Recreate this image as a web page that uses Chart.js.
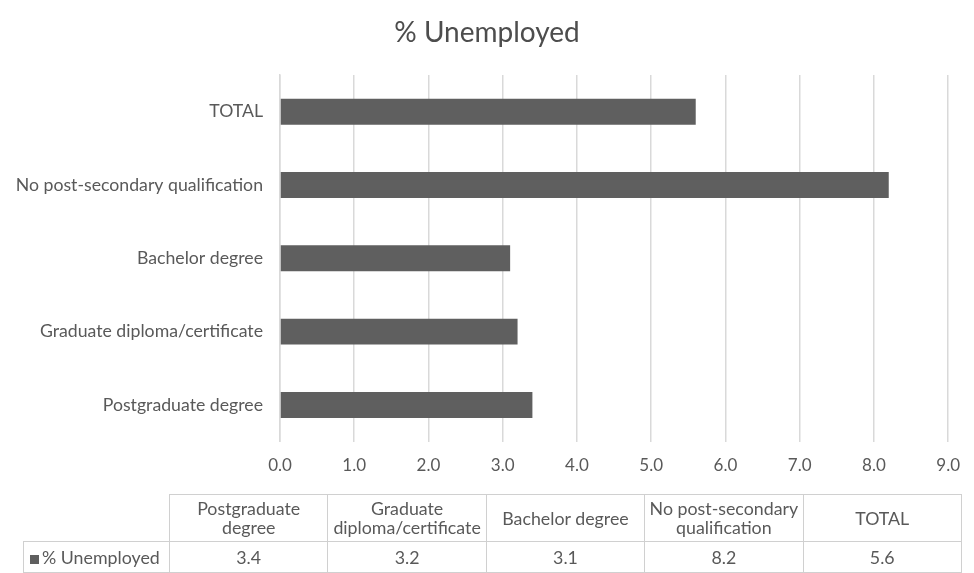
<!DOCTYPE html>
<html>
<head>
<meta charset="utf-8">
<script src="https://cdn.jsdelivr.net/npm/chart.js@4/dist/chart.umd.min.js"></script>
<style>
  html, body { margin: 0; padding: 0; background: #ffffff; }
  #wrap { position: relative; width: 974px; height: 573px; font-family: Lato, "Open Sans", sans-serif; color: #595959; }
  #chart { position: absolute; left: 0; top: 0; }
  #table { position: absolute; left: 23px; top: 494px; width: 938px; table-layout: fixed; border-collapse: collapse; font-size: 17.8px; color: #595959; }
  #table td { border: 1px solid #d0d0d0; text-align: center; padding: 0; line-height: 19px; white-space: nowrap; overflow: visible; }
  #table tr.head td { height: 46px; }
  #table tr.vals td { height: 30px; }
  #table td.blank { border: none; }
  #table td.key { text-align: left; padding-left: 6px; }
  .swatch { display: inline-block; width: 9px; height: 9px; background: #5f5f5f; margin-right: 3px; }
</style>
</head>
<body>
<div id="wrap">
  <canvas id="chart" width="974" height="573"></canvas>
  <table id="table"></table>
</div>
<script>
var categories = ['Postgraduate degree', 'Graduate diploma/certificate', 'Bachelor degree', 'No post-secondary qualification', 'TOTAL'];
var headerLines = [['Postgraduate', 'degree'], ['Graduate', 'diploma/certificate'], ['Bachelor degree'], ['No post-secondary', 'qualification'], ['TOTAL']];
var unemployed = [3.4, 3.2, 3.1, 8.2, 5.6];
var seriesName = '% Unemployed';

// title centred on the whole canvas, like the Excel original
var pageTitle = {
    id: 'pageTitle',
    afterDraw: function (chart) {
        var c = chart.ctx;
        c.save();
        c.font = '28px Lato';
        c.fillStyle = '#4d4d4d';
        c.textAlign = 'center';
        c.textBaseline = 'middle';
        c.fillText(seriesName, chart.width / 2, 33);
        c.restore();
    }
};

document.addEventListener("DOMContentLoaded", function () {
    // data table under the chart
    var table = document.getElementById('table');
    var html = '<colgroup><col style="width:146px">';
    categories.forEach(function () { html += '<col style="width:158.4px">'; });
    html += '</colgroup>';
    html += '<tr class="head"><td class="blank"></td>';
    headerLines.forEach(function (lines) {
        html += '<td>' + lines.join('<br>') + '</td>';
    });
    html += '</tr>';
    html += '<tr class="vals"><td class="key"><span class="swatch"></span>' + seriesName + '</td>';
    unemployed.forEach(function (v) {
        html += '<td>' + v.toFixed(1) + '</td>';
    });
    html += '</tr>';
    table.innerHTML = html;

    var ctx = document.getElementById('chart').getContext('2d');
    new Chart(ctx, {
        type: 'bar',
        data: {
            labels: categories,
            datasets: [{
                label: seriesName,
                data: unemployed,
                backgroundColor: '#5f5f5f',
                borderWidth: 0,
                categoryPercentage: 0.354,
                barPercentage: 1
            }]
        },
        options: {
            indexAxis: 'y',
            responsive: false,
            animation: false,
            layout: {
                padding: { left: 0, right: 25, top: 75, bottom: 83 }
            },
            plugins: {
                legend: { display: false },
                tooltip: { enabled: false },
                title: { display: false }
            },
            scales: {
                x: {
                    min: 0,
                    max: 9,
                    ticks: {
                        stepSize: 1,
                        color: '#595959',
                        padding: 14,
                        font: { family: 'Lato', size: 17 },
                        callback: function (v) { return Number(v).toFixed(1); }
                    },
                    grid: { color: '#d9d9d9', lineWidth: 1.5, drawTicks: false },
                    border: { display: false }
                },
                y: {
                    reverse: true,
                    ticks: {
                        color: '#595959',
                        padding: 17,
                        font: { family: 'Lato', size: 17.7 }
                    },
                    grid: { display: false, drawTicks: false },
                    border: { display: true, color: '#d9d9d9', width: 1.5 },
                    afterFit: function (scale) { scale.width = 280; }
                }
            }
        },
        plugins: [pageTitle]
    });
});
</script>
</body>
</html>
